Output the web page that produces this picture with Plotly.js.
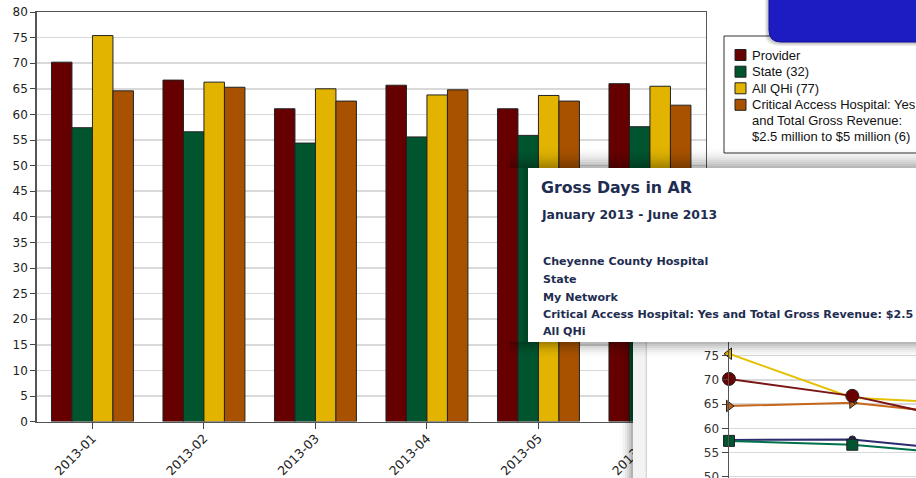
<!DOCTYPE html>
<html><head><meta charset="utf-8">
<script src="https://cdn.plot.ly/plotly-3.0.1.min.js"></script>
<style>html,body{margin:0;padding:0;background:#fff;overflow:hidden}</style>
</head><body><div id="chart" style="width:916px;height:478px"></div>
<script>
// ---- data ----
const months = ['2013-01','2013-02','2013-03','2013-04','2013-05','2013-06'];
const legendNames = ['Provider','State (32)','All QHi (77)','Critical Access Hospital: Yes<br>and Total Gross Revenue:<br>$2.5 million to $5 million (6)'];
const provider = [70.2, 66.7, 61.1, 65.7, 61.1, 66.0];
const state    = [57.4, 56.6, 54.4, 55.6, 55.9, 57.6];
const allQhi   = [75.4, 66.3, 65.0, 63.8, 63.7, 65.5];
const critical = [64.6, 65.3, 62.6, 64.8, 62.6, 61.8];
const networkMonths = ['2013-01','2013-02','2013-03'];
const myNetwork = [57.6, 57.7, 55.2];
const lineTicks = [50,55,60,65,70,75];
const tooltipTitle = 'Gross Days in AR';
const tooltipPeriod = 'January 2013 - June 2013';
const tooltipItems = ['Cheyenne County Hospital','State','My Network','Critical Access Hospital: Yes and Total Gross Revenue: $2.5 million to $5 million','All QHi'];

// ---- styling ----
const W = 916, H = 478;
const px = x => x / W;
const py = y => 1 - y / H;
const barColors = ['#660000','#00552f','#e2b400','#a85200'];
const seriesVals = [provider, state, allQhi, critical];
const tickFont = {family:'DejaVu Sans, Verdana, sans-serif', size:12, color:'#222'};

const traces = [];
seriesVals.forEach((vals, i) => {
  traces.push({type:'bar', x:months, y:vals, name:legendNames[i],
    marker:{color:barColors[i], line:{color:'#222', width:1}}, hoverinfo:'skip'});
});
// panel subplot (white background card of the line chart)
traces.push({type:'scatter', x:[], y:[], xaxis:'x2', yaxis:'y2', showlegend:false, hoverinfo:'skip'});
// line chart
const lineSpec = [
  {name:'My Network', x:networkMonths, y:myNetwork, lc:'#2b2b6e', sym:'circle', ms:7, mc:'#22225a'},
  {name:'State', x:months, y:state, lc:'#00704a', sym:'square', ms:11, mc:'#005530'},
  {name:'Critical', x:months, y:critical, lc:'#c8661a', sym:'triangle-right', ms:10, mc:'#c06010'},
  {name:'All QHi', x:months, y:allQhi, lc:'#e6c000', sym:'triangle-left', ms:10, mc:'#e2b400'},
  {name:'Provider', x:months, y:provider, lc:'#7a1515', sym:'circle', ms:13, mc:'#6a0000'}
];
lineSpec.forEach(s => traces.push({type:'scatter', mode:'lines+markers', x:s.x, y:s.y, xaxis:'x3', yaxis:'y3',
  line:{color:s.lc, width:2}, marker:{symbol:s.sym, size:s.ms, color:s.mc, line:{color:'#222', width:1}},
  cliponaxis:false, showlegend:false, hoverinfo:'skip'}));

const shapes = [];
const annotations = [];
function rect(x0,x1,y0,y1,fill,line,layer){
  shapes.push({type:'rect', xref:'paper', yref:'paper', x0:px(x0), x1:px(x1), y0:py(y1), y1:py(y0),
    fillcolor:fill, line:line||{width:0}, layer:layer||'above'});
}
function shadow(x0,x1,y0,y1,dir,maxOp,n){
  for(let i=0;i<n;i++){
    const t=(i+1)/n, op=maxOp*t*t;
    let a,b,c,d;
    if(dir==='down'){ a=x0;b=x1;c=y0+(y1-y0)*i/n;d=y0+(y1-y0)*(i+1)/n; }
    else if(dir==='up'){ a=x0;b=x1;d=y1-(y1-y0)*i/n;c=y1-(y1-y0)*(i+1)/n; }
    else { c=y0;d=y1;a=x0+(x1-x0)*i/n;b=x0+(x1-x0)*(i+1)/n; }
    rect(a,b,c,d,'rgba(0,0,0,'+op.toFixed(3)+')');
  }
}

// legend box
rect(724,940,36,153,'#ffffff',{color:'#333',width:1});
const legendY = [55,71.7,88.3,104.8];
const legendLineGap = 15.6;
const legendFont = {family:'Liberation Sans, Arial, sans-serif', size:13, color:'#111'};
legendNames.forEach((n,i)=>{
  rect(735,746,legendY[i]-5.5,legendY[i]+5.5,barColors[i],{color:'#222',width:1});
  n.split('<br>').forEach((ln,j)=>annotations.push({xref:'paper',yref:'paper',x:px(750),y:py(legendY[i]+j*legendLineGap),
    xanchor:'left',yanchor:'middle',text:ln,showarrow:false,font:legendFont}));
});
// blue button
for(let k=4;k>=1;k--){
  shapes.push({type:'path', xref:'paper', yref:'paper', layer:'above',
    path:'M '+px(769-k)+' '+py(-5)+' L '+px(769-k)+' '+py(30+k)+' Q '+px(769-k)+' '+py(42+k)+' '+px(781)+' '+py(42+k)+' L '+px(940)+' '+py(42+k)+' L '+px(940)+' '+py(-5)+' Z',
    fillcolor:'rgba(0,0,0,0.07)', line:{width:0}});
}
shapes.push({type:'path', xref:'paper', yref:'paper', layer:'above',
  path:'M '+px(769)+' '+py(-5)+' L '+px(769)+' '+py(30)+' Q '+px(769)+' '+py(42)+' '+px(781)+' '+py(42)+' L '+px(940)+' '+py(42)+' L '+px(940)+' '+py(-5)+' Z',
  fillcolor:'#1c1cc2', line:{color:'#13139a', width:1}});

// line-chart panel edge + shadows
shadow(619,633,342,478,'right',0.3,7);
rect(633,645,342,478,'#f3f3f3');
rect(645.5,647,342,478,'#d4d4d4');
// tooltip card shadows
shadow(510,940,146,168,'down',0.28,11);
shadow(510,940,342,358,'up',0.28,8);
shadow(514,528,168,342,'right',0.18,7);
rect(528,940,168,342,'#ffffff');

const cardFont = {family:'DejaVu Sans, Verdana, sans-serif', color:'#1e2d50'};
annotations.push({xref:'paper',yref:'paper',x:px(539),y:py(187),xanchor:'left',yanchor:'middle',showarrow:false,
  text:'<b>'+tooltipTitle+'</b>', font:Object.assign({size:15.8},cardFont)});
annotations.push({xref:'paper',yref:'paper',x:px(539),y:py(214.5),xanchor:'left',yanchor:'middle',showarrow:false,
  text:'<b>'+tooltipPeriod+'</b>', font:Object.assign({size:12.4},cardFont)});
const itemY = [261.7,279,297,314.3,331.7];
tooltipItems.forEach((t,i)=>annotations.push({xref:'paper',yref:'paper',x:px(541),y:py(itemY[i]),xanchor:'left',yanchor:'middle',showarrow:false,
  text:'<b>'+t+'</b>', font:Object.assign({size:11.1},cardFont)}));

const layout = {
  width:W, height:H, margin:{l:0,r:0,t:0,b:0}, autosize:false,
  paper_bgcolor:'#ffffff', plot_bgcolor:'#ffffff', showlegend:false,
  barmode:'group', bargap:0.265, bargroupgap:0,
  xaxis:{domain:[px(36.7),px(705.7)], type:'category', tickangle:-45, ticks:'outside', ticklen:6, tickcolor:'#444',
    showline:true, linecolor:'#555', linewidth:1.5, mirror:true, showgrid:false, ticklabelstandoff:-3,
    tickfont:Object.assign({},tickFont,{size:12.5}), anchor:'y', fixedrange:true},
  yaxis:{domain:[py(421.6),py(12)], range:[0,80], dtick:5, ticks:'outside', ticklen:5, tickcolor:'#444',
    showline:true, linecolor:'#555', linewidth:1.5, mirror:true, gridcolor:'#d9d9d9', gridwidth:1.5, zeroline:false,
    tickfont:tickFont, anchor:'x', fixedrange:true},
  xaxis2:{domain:[px(633),1], range:[0,1], visible:false, anchor:'y2', fixedrange:true},
  yaxis2:{domain:[0,py(335)], range:[0,1], visible:false, anchor:'x2', fixedrange:true},
  xaxis3:{domain:[px(729),1], type:'category', range:[0,1.5166], showticklabels:false, showgrid:false, showline:false,
    ticks:'', zeroline:false, anchor:'y3', fixedrange:true},
  yaxis3:{domain:[0,py(335)], range:[49.731,79.277], tickvals:lineTicks, ticks:'outside', ticklen:6, tickcolor:'#444',
    showline:true, linecolor:'#555', linewidth:1.5, gridcolor:'#d9d9d9', gridwidth:1.5, zeroline:false, ticklabeloverflow:'allow',
    tickfont:Object.assign({},tickFont,{color:'#333'}), anchor:'x3', fixedrange:true},
  shapes:shapes, annotations:annotations
};
Plotly.newPlot('chart', traces, layout, {staticPlot:true, displayModeBar:false});
</script></body></html>
